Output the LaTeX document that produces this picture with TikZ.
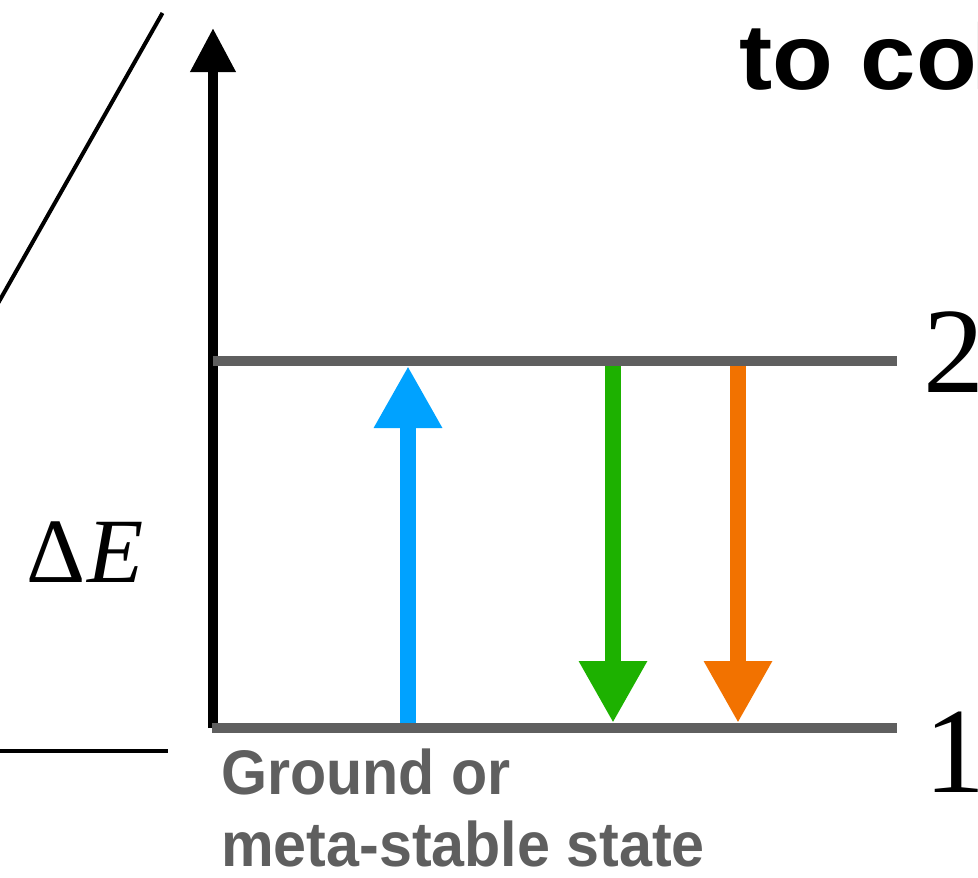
\documentclass[tikz,border=0pt]{standalone}
\usepackage{fontspec}
\setmainfont{Liberation Serif}
\newfontfamily\hsanswide[FakeStretch=1.07]{Liberation Sans}
\newfontfamily\hsansnarrow[FakeStretch=0.94]{Liberation Sans}
\usetikzlibrary{arrows.meta}
\definecolor{levelgray}{HTML}{5F5F5F}
\definecolor{absblue}{HTML}{00A2FF}
\definecolor{emgreen}{HTML}{1DB100}
\definecolor{emorange}{HTML}{F27200}
\tikzset{
  levelline/.style={draw=levelgray, line width=10pt, line cap=butt},
  transarrow/.style={line width=16pt, line cap=butt, -{Triangle[length=62pt,width=64pt]}},
  thinline/.style={draw=black, line width=4pt, line cap=butt},
  numlabel/.style={inner sep=0pt, anchor=base west, font=\fontsize{122}{130}\selectfont},
}
\begin{document}
\begin{tikzpicture}[x=1pt,y=-1pt]
\useasboundingbox (0,0) rectangle (978,878);
\clip (0,0) rectangle (978,878);

% coordinates
\coordinate (axB) at (213,728);
\coordinate (axT) at (213,28);
\coordinate (u0) at (213,361);
\coordinate (u1) at (897,361);
\coordinate (l0) at (212,728);
\coordinate (l1) at (897,728);
\coordinate (bB) at (408,726);
\coordinate (bT) at (408,366);
\coordinate (gT) at (613,365);
\coordinate (gB) at (613,723);
\coordinate (oT) at (738,365);
\coordinate (oB) at (738,723);
\coordinate (d0) at (162.5,13);
\coordinate (d1) at (-12,321);
\coordinate (h0) at (-5,750.5);
\coordinate (h1) at (168,750.5);

% left decorative lines
\draw[thinline] (d0) -- (d1);
\draw[thinline] (h0) -- (h1);

% energy axis
\draw[line width=10pt, line cap=butt, -{Triangle[length=44pt,width=43pt]}] (axB) -- (axT);

% transitions
\draw[transarrow, absblue] (bB) -- (bT);
\draw[transarrow, emgreen] (gT) -- (gB);
\draw[transarrow, emorange] (oT) -- (oB);

% levels
\draw[levelline] (u0) -- (u1);
\draw[levelline] (l0) -- (l1);

% labels
\node[numlabel] (n2) at (923,392) {2};
\node[numlabel] (n1) at (924,792) {1};
\node[inner sep=0pt, anchor=base west, font=\fontsize{92}{98}\selectfont] (dE) at (26,582) {Δ\kern2pt\textit{E}};
\node[inner sep=0pt, anchor=base west, font=\hsanswide\bfseries\fontsize{93}{100}\selectfont] (top) at (739,89) {to co\kern-5pt l};
\node[inner sep=0pt, anchor=north west, align=left, text=levelgray,
      font=\hsansnarrow\bfseries\fontsize{63}{72}\selectfont] (gs) at (221,749) {Ground or\\meta-stable state};
\end{tikzpicture}
\end{document}
